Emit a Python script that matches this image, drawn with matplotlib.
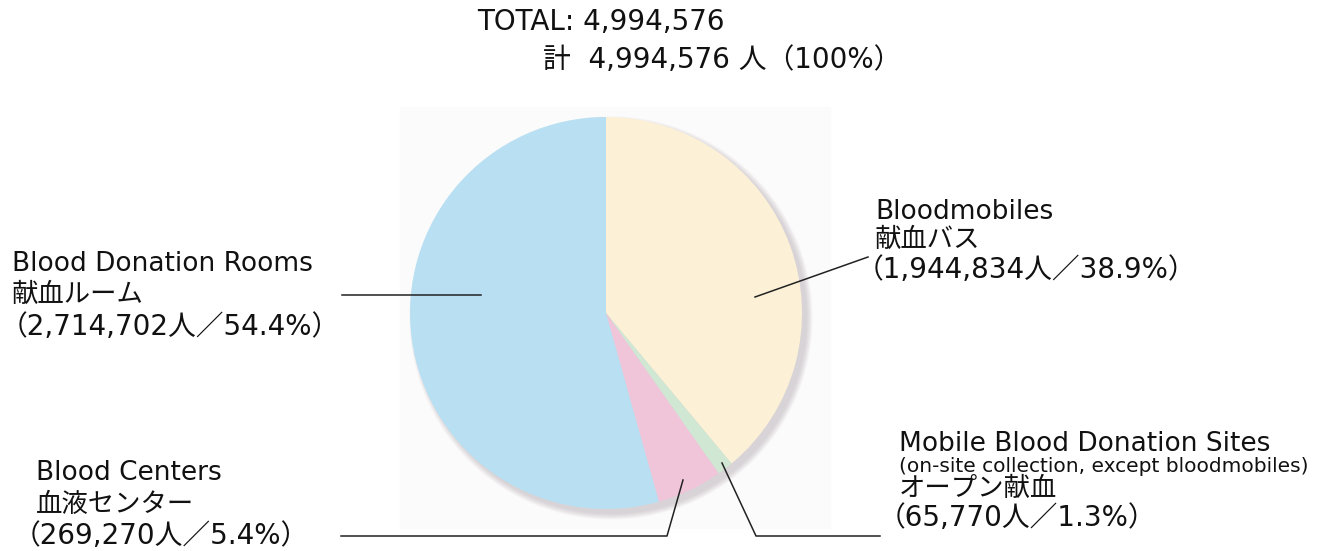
import matplotlib
matplotlib.use("Agg")
import matplotlib.pyplot as plt
from matplotlib.patches import Circle, Rectangle

plt.rcParams['font.family'] = ['DejaVu Sans', 'Noto Sans CJK JP']

# data
names_en = ['Bloodmobiles', 'Mobile Blood Donation Sites', 'Blood Centers', 'Blood Donation Rooms']
names_jp = ['献血バス', 'オープン献血', '血液センター', '献血ルーム']
counts = [1944834, 65770, 269270, 2714702]
shares = [38.9, 1.3, 5.4, 54.4]
colors = ['#fcf1d6', '#d0e7d3', '#f0c5da', '#b9dff2']
total = sum(counts)

fig = plt.figure(figsize=(13.22, 5.51), dpi=100)
ax = fig.add_axes([0, 0, 1, 1])

cx, cy, r = 606, 313, 196

# faint backdrop + soft shadow
ax.add_patch(Rectangle((400, 107), 430, 421, color='#fcfbfb', zorder=0))
for i in range(8):
    ax.add_patch(Circle((cx + 5, cy + 5), r + i * 0.8, color='#9a8f98', alpha=0.05, lw=0, zorder=1))

ax.pie(counts, colors=colors, startangle=-90, counterclock=True,
       center=(cx, cy), radius=r, frame=True,
       wedgeprops=dict(linewidth=0, zorder=2))

ax.set_xlim(0, 1322)
ax.set_ylim(551, 0)
ax.axis('off')

fs = 19
fs_num = 20
lc = '#222222'
lw = 1.1

def label(x, y, s, size=fs):
    ax.text(x, y, s, fontsize=size, va='center', ha='left', color='#111111', zorder=5)

# total
label(477, 22, 'TOTAL: {:,}'.format(total), size=fs_num)
label(543, 60, '計  {:,} 人（100%）'.format(total), size=fs_num)

# Bloodmobiles
label(875, 212, names_en[0])
label(875, 240, names_jp[0])
label(856, 270, '（{:,}人／{}%）'.format(counts[0], shares[0]), size=fs_num)
ax.plot([755, 868], [297, 257], color=lc, lw=lw, zorder=4)

# Blood Donation Rooms
label(12, 264, names_en[3])
label(12, 295, names_jp[3])
label(0, 327, '（{:,}人／{}%）'.format(counts[3], shares[3]), size=fs_num)
ax.plot([342, 481], [295, 295], color=lc, lw=lw, zorder=4)

# Mobile Blood Donation Sites
label(899, 444, names_en[1])
label(899, 466, '(on-site collection, except bloodmobiles)', size=14.5)
label(899, 489, names_jp[1])
label(878, 518, '（{:,}人／{}%）'.format(counts[1], shares[1]), size=fs_num)
ax.plot([722, 756, 880], [463, 536, 536], color=lc, lw=lw, zorder=4)

# Blood Centers
label(36, 473, names_en[2])
label(36, 505, names_jp[2])
label(13, 536, '（{:,}人／{}%）'.format(counts[2], shares[2]), size=fs_num)
ax.plot([683, 667, 341], [480, 536, 536], color=lc, lw=lw, zorder=4)

fig.savefig('out.png', dpi=100)
